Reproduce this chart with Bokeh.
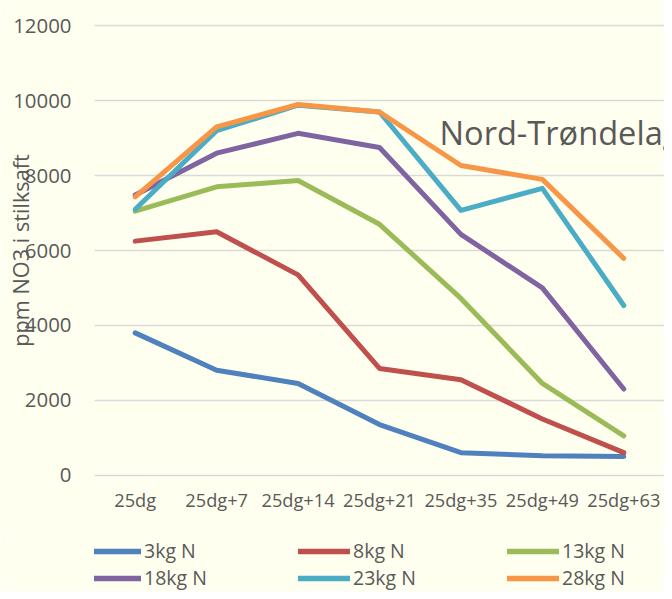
from bokeh.plotting import figure
from bokeh.layouts import column
from bokeh.models import (FactorRange, Range1d, FixedTicker, Legend, LegendItem,
                          Label, ColumnDataSource)
from bokeh.embed import file_html
from bokeh.resources import INLINE

# ---- data ----
stages = ["25dg", "25dg+7", "25dg+14", "25dg+21", "25dg+35", "25dg+49", "25dg+63"]
n3 = [3800, 2800, 2450, 1350, 600, 520, 500]
n8 = [6250, 6500, 5350, 2850, 2550, 1500, 600]
n13 = [7050, 7700, 7870, 6700, 4720, 2450, 1050]
n18 = [7480, 8600, 9130, 8750, 6430, 5000, 2300]
n23 = [7100, 9200, 9880, 9700, 7070, 7660, 4530]
n28 = [7430, 9300, 9900, 9700, 8270, 7900, 5790]
series_names = ["3kg N", "8kg N", "13kg N", "18kg N", "23kg N", "28kg N"]
series_values = [n3, n8, n13, n18, n23, n28]
colors = ["#4F81BD", "#C0504D", "#9BBB59", "#8064A2", "#4BACC6", "#F79646"]
y_ticks = [0, 2000, 4000, 6000, 8000, 10000, 12000]
title_text = "Nord-Trøndelag"
y_label = "ppm NO3 i stilksaft"

BG = "#FFFFF0"
TXT = "#595959"
FONT = "Open Sans"
NAN = float("nan")

# ---- main chart ----
p = figure(width=664, height=528, output_backend="svg", toolbar_location=None,
           x_range=FactorRange(*stages, range_padding=0),
           y_range=Range1d(-250, 12250),
           min_border_left=94, min_border_right=0, min_border_top=16,
           min_border_bottom=44)
p.background_fill_color = BG
p.border_fill_color = BG
p.outline_line_color = None

p.xgrid.grid_line_color = None
p.ygrid.grid_line_color = "#D9D9D9"
p.ygrid.grid_line_width = 1.6
p.yaxis.ticker = FixedTicker(ticks=y_ticks)

for ax in (p.xaxis[0], p.yaxis[0]):
    ax.axis_line_color = None
    ax.major_tick_line_color = None
    ax.minor_tick_line_color = None
    ax.major_tick_out = 0
    ax.major_tick_in = 0
    ax.minor_tick_out = 0
    ax.minor_tick_in = 0
    ax.major_label_text_color = TXT
    ax.major_label_text_font = FONT

p.yaxis.major_label_text_font_size = "20.4px"
p.yaxis.major_label_standoff = 23
p.yaxis.axis_label = y_label
p.yaxis.axis_label_text_font = FONT
p.yaxis.axis_label_text_font_size = "21.7px"
p.yaxis.axis_label_text_font_style = "normal"
p.yaxis.axis_label_text_color = TXT
p.yaxis.axis_label_standoff = -25

p.xaxis.major_label_text_font_size = "18.2px"
p.xaxis.major_label_standoff = 3

for name, vals, col in zip(series_names, series_values, colors):
    src = ColumnDataSource(dict(x=stages, y=vals))
    p.line("x", "y", source=src, line_color=col, line_width=5,
           line_join="round", line_cap="round")

title = Label(x=345, y=352, x_units="screen", y_units="screen", text=title_text,
              text_font=FONT, text_font_size="32.6px", text_color=TXT,
              text_baseline="alphabetic")
p.add_layout(title)

# ---- legend strip ----
q = figure(width=664, height=63, output_backend="svg", toolbar_location=None,
           x_range=Range1d(0, 1), y_range=Range1d(0, 1),
           x_axis_type=None, y_axis_type=None,
           min_border_left=0, min_border_right=0, min_border_top=0,
           min_border_bottom=0)
q.background_fill_color = BG
q.border_fill_color = BG
q.outline_line_color = None
q.xgrid.visible = False
q.ygrid.visible = False

items = []
for name, col in zip(series_names, colors):
    r = q.line(x=[NAN, NAN], y=[NAN, NAN], line_color=col, line_width=5.5,
               line_cap="round")
    items.append(LegendItem(label=name, renderers=[r]))

legend = Legend(items=items, ncols=3, orientation="horizontal",
                location=(-5, 0), padding=0, margin=0,
                glyph_width=52, glyph_height=20, label_height=20,
                label_width=154, label_standoff=3, spacing=0,
                border_line_color=None, background_fill_alpha=0,
                label_text_font=FONT, label_text_font_size="19.5px",
                label_text_color=TXT)
q.add_layout(legend, "center")

layout = column(p, q, spacing=0)

open("out.html", "w").write(file_html(layout, INLINE))
